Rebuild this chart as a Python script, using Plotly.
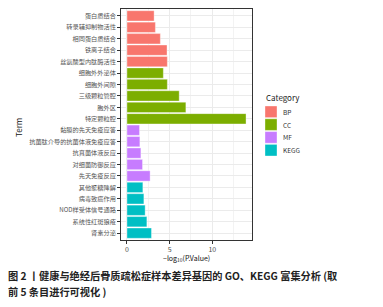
import plotly.graph_objects as go

categories = ["BP", "CC", "MF", "KEGG"]
colors = ["#F8766D", "#7CAE00", "#C77CFF", "#00BFC4"]

bp_terms = ["蛋白质结合", "转录辅抑制物活性", "相同蛋白质结合", "铁离子结合", "丝氨酸型内肽酶活性"]
bp_values = [3.18, 3.33, 3.91, 4.69, 4.73]
cc_terms = ["细胞外外泌体", "细胞外间隙", "三级颗粒管腔", "胞外区", "特定颗粒腔"]
cc_values = [4.26, 4.73, 6.12, 6.90, 13.95]
mf_terms = ["黏膜的先天免疫应答", "抗菌肽介导的抗菌体液免疫应答", "抗真菌体液反应", "对细菌防御反应", "先天免疫反应"]
mf_values = [1.47, 1.51, 1.63, 1.82, 2.71]
kegg_terms = ["其他聚糖降解", "病毒致癌作用", "NOD样受体信号通路", "系统性红斑狼疮", "肾素分泌"]
kegg_values = [1.86, 1.98, 2.13, 2.33, 2.87]

x_ticks = [0, 5, 10]
caption_lines = ["图 2 丨健康与绝经后骨质疏松症样本差异基因的 GO、KEGG 富集分析 (取",
                 "前 5 条目进行可视化 )"]

groups = [bp_terms, cc_terms, mf_terms, kegg_terms]
vals = [bp_values, cc_values, mf_values, kegg_values]
all_terms = [t for g in groups for t in g]

FONT = "Noto Sans CJK SC, Noto Sans, sans-serif"

fig = go.Figure()
for cat, col, terms, v in zip(categories, colors, groups, vals):
    fig.add_trace(go.Bar(
        x=v, y=terms, orientation="h", name=cat, showlegend=False,
        marker=dict(color=col, line=dict(color="rgba(255,255,255,0.6)", width=0.6)),
        width=0.9,
    ))

L, R, T, B = 121, 252, 9, 240
W, H = 383, 307

def py(p):
    return (B - p) / (B - T)

def px(p):
    return (p - L) / (R - L)

shapes = []
annotations = []
# manual legend
annotations.append(dict(text="Category", xref="paper", yref="paper", x=px(264), y=py(97),
                        xanchor="left", yanchor="middle", showarrow=False,
                        font=dict(family=FONT, size=8, color="#222")))
for i, (cat, col) in enumerate(zip(categories, colors)):
    y0 = 106 + i * 12.8
    shapes.append(dict(type="rect", xref="paper", yref="paper",
                       x0=px(265), x1=px(277), y0=py(y0), y1=py(y0 + 11.6),
                       fillcolor=col, line=dict(color="rgba(255,255,255,0.6)", width=0.6)))
    annotations.append(dict(text=cat, xref="paper", yref="paper", x=px(281), y=py(y0 + 5.8),
                            xanchor="left", yanchor="middle", showarrow=False,
                            font=dict(family=FONT, size=6.5, color="#333")))
# axis titles
annotations.append(dict(text="Term", xref="paper", yref="paper", x=px(18), y=py(128),
                        xanchor="center", yanchor="middle", textangle=-90, showarrow=False,
                        font=dict(family=FONT, size=8, color="#111")))
annotations.append(dict(text="−log<sub>10</sub>(P.Value)", xref="paper", yref="paper",
                        x=px(186.5), y=py(258), xanchor="center", yanchor="middle",
                        showarrow=False, font=dict(family=FONT, size=7, color="#111")))
for j, line in enumerate(caption_lines):
    annotations.append(dict(
        text="<b>" + line + "</b>", xref="paper", yref="paper",
        x=px(6), y=py(275 + j * 16), xanchor="left", yanchor="middle", align="left",
        showarrow=False, font=dict(family=FONT, size=10.2, color="#222"),
    ))

fig.update_layout(
    width=W, height=H,
    margin=dict(l=L, r=W - R, t=T, b=H - B, pad=0, autoexpand=False),
    plot_bgcolor="white", paper_bgcolor="white",
    font=dict(family=FONT, size=7, color="#4D4D4D"),
    bargap=0.1,
    showlegend=False,
    xaxis=dict(
        automargin=False,
        range=[-0.7, 14.65], tickvals=x_ticks, ticktext=[str(t) for t in x_ticks],
        showgrid=True, gridcolor="#EBEBEB", gridwidth=0.8,
        minor=dict(tickvals=[2.5, 7.5, 12.5], showgrid=True, gridcolor="#F3F3F3", gridwidth=0.5),
        zeroline=False, ticks="outside", ticklen=3, tickcolor="#333", tickwidth=0.8,
        tickfont=dict(size=7, color="#4D4D4D"),
        showline=True, linecolor="#333", linewidth=0.8, mirror=True,
    ),
    yaxis=dict(
        automargin=False,
        categoryorder="array", categoryarray=all_terms[::-1],
        range=[-0.6, 19.6],
        showgrid=True, gridcolor="#EBEBEB", gridwidth=0.8,
        ticks="outside", ticklen=3, tickcolor="#333", tickwidth=0.8,
        tickfont=dict(size=6.2, color="#555"),
        showline=True, linecolor="#333", linewidth=0.8, mirror=True,
    ),
    shapes=shapes,
    annotations=annotations,
)

fig.write_html(
    "out.html",
    config={"displayModeBar": False},
    post_script="document.body.style.margin='0';document.body.style.overflow='hidden';",
)
